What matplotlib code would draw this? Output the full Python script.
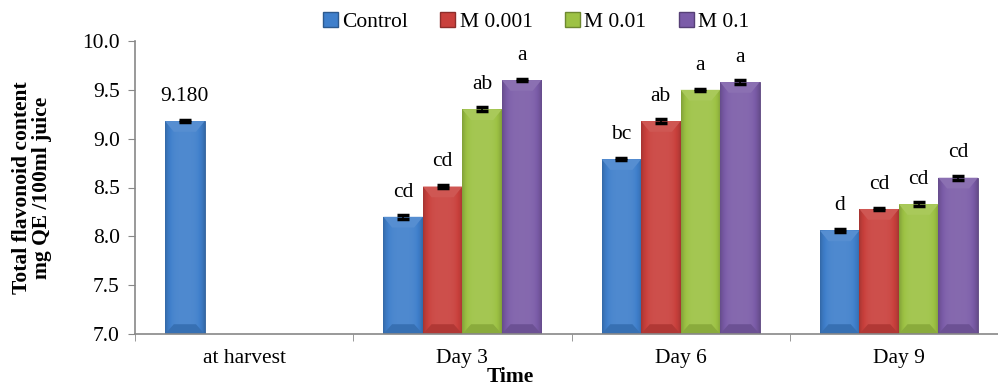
import matplotlib
matplotlib.use('Agg')
import matplotlib.pyplot as plt
import matplotlib.colors as mcolors
from matplotlib.patches import Polygon, Patch
import numpy as np

categories = ['at harvest', 'Day 3', 'Day 6', 'Day 9']
series = ['Control', 'M 0.001', 'M 0.01', 'M 0.1']
values = {
    'Control': [9.18, 8.20, 8.79, 8.06],
    'M 0.001': [np.nan, 8.51, 9.18, 8.28],
    'M 0.01': [np.nan, 9.30, 9.50, 8.33],
    'M 0.1': [np.nan, 9.60, 9.58, 8.60],
}
errors = {
    'Control': [0.01, 0.02, 0.01, 0.02],
    'M 0.001': [0.0, 0.02, 0.02, 0.01],
    'M 0.01': [0.0, 0.02, 0.01, 0.02],
    'M 0.1': [0.0, 0.01, 0.02, 0.02],
}
letters = {
    'Control': ['9.180', 'cd', 'bc', 'd'],
    'M 0.001': ['', 'cd', 'ab', 'cd'],
    'M 0.01': ['', 'ab', 'a', 'cd'],
    'M 0.1': ['', 'a', 'a', 'cd'],
}
colors = ['#3F7FCB', '#C9403C', '#9DC244', '#7B5CA8']

plt.rcParams['font.family'] = ['Liberation Serif', 'DejaVu Serif']
fs = 15.5

fig = plt.figure(figsize=(9.98, 3.88), dpi=100)
ax = fig.add_axes([135 / 998, 54 / 388, 873 / 998, 293 / 388])

ymin = 7.0
width = 0.181
x = np.arange(len(categories))


def shade(color, f):
    rgb = np.array(mcolors.to_rgb(color))
    if f >= 1:
        return rgb + (1 - rgb) * (f - 1)
    return rgb * f


for i, s in enumerate(series):
    xs = x + (i - 1.5) * width
    vals = np.array(values[s], dtype=float)
    bars = ax.bar(xs, vals - ymin, width, bottom=ymin, color=colors[i],
                  edgecolor=shade(colors[i], 0.75), linewidth=0.6, zorder=2)
    for b, v in zip(bars, vals):
        if np.isnan(v):
            continue
        x0 = b.get_x()
        x1 = x0 + b.get_width()
        # horizontal gradient (darker sides)
        t = np.linspace(-1, 1, 60)
        fac = 1.08 - 0.25 * t ** 4
        grad = np.array([shade(colors[i], f) for f in fac])
        grad = np.clip(grad, 0, 1)[None, :, :]
        im = ax.imshow(grad, extent=(x0, x1, ymin, v), aspect='auto',
                       zorder=2.1, interpolation='bilinear')
        im.set_clip_path(b)
        # top bevel
        d = b.get_width() * 0.22
        h = 0.11
        top = Polygon([(x0, v), (x1, v), (x1 - d, v - h), (x0 + d, v - h)],
                      closed=True, facecolor=shade(colors[i], 1.12),
                      edgecolor='none', zorder=2.2)
        ax.add_patch(top)
        bot = Polygon([(x0, ymin), (x1, ymin), (x1 - d, ymin + 0.1), (x0 + d, ymin + 0.1)],
                      closed=True, facecolor=shade(colors[i], 0.88),
                      edgecolor='none', zorder=2.2)
        ax.add_patch(bot)
    err = np.array(errors[s])
    ax.errorbar(xs, vals, yerr=err, fmt='none', ecolor='black',
                elinewidth=1.2, capsize=4.5, capthick=2.5, zorder=3)
    for xi, v, lab in zip(xs, vals, letters[s]):
        if lab:
            ax.annotate(lab, (xi, v), xytext=(0, 11), textcoords='offset points',
                        ha='center', va='bottom', fontsize=fs)

ax.set_xlim(-0.5, 3.5)
ax.set_ylim(7.0, 10.0)
ax.set_yticks(np.arange(7.0, 10.01, 0.5))
ax.set_yticklabels(['%.1f' % t for t in np.arange(7.0, 10.01, 0.5)], fontsize=fs)
ax.set_xticks(x)
ax.set_xticklabels(categories, fontsize=fs)
ax.set_xticks(np.arange(-0.5, 3.6, 1), minor=True)
ax.tick_params(axis='x', which='major', length=0, pad=11)
ax.tick_params(axis='x', which='minor', length=5, color='#888888')
ax.tick_params(axis='y', length=5, color='#888888', pad=6)

for side in ['top', 'right']:
    ax.spines[side].set_visible(False)
for side in ['left', 'bottom']:
    ax.spines[side].set_color('#888888')
    ax.spines[side].set_linewidth(1.2)

ax.set_ylabel('Total flavonoid content\nmg QE /100ml juice', fontsize=fs,
              fontweight='bold', labelpad=22, linespacing=1.0)
fig.text(510 / 998, 1 / 388, 'Time', fontsize=fs, fontweight='bold',
         ha='center', va='bottom')

handles = [Patch(facecolor=c, edgecolor=shade(c, 0.7)) for c in colors]
fig.legend(handles, series, loc='center', bbox_to_anchor=(536 / 998, 1 - 22 / 388),
           ncol=4, frameon=False, fontsize=fs, handlelength=0.7, handleheight=0.7,
           handletextpad=0.2, columnspacing=1.5)

fig.savefig('out.png', dpi=100)
